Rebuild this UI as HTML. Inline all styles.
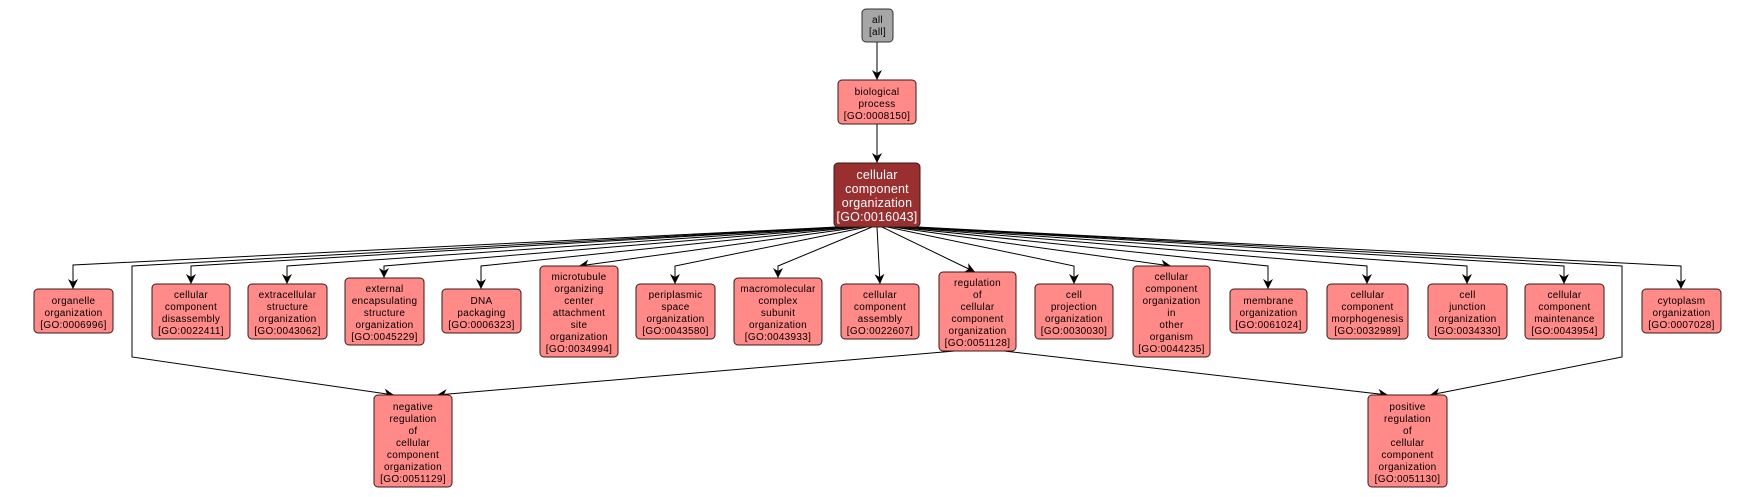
<!DOCTYPE html>
<html><head><meta charset="utf-8"><style>
html,body{margin:0;padding:0;background:#fff;}
svg{display:block;}
text{font-family:"Liberation Sans",Arial,sans-serif;font-size:10px;fill:#000;text-anchor:middle;letter-spacing:0.3px;}
.n{fill:#ff8a88;stroke:#3a1a1a;stroke-width:1;}
.e{fill:none;stroke:#000;stroke-width:1;marker-end:url(#a);}
.w{fill:#fff;font-size:12.5px;letter-spacing:0.2px;}
</style></head><body>
<svg width="1755" height="497" viewBox="0 0 1755 497" xmlns="http://www.w3.org/2000/svg">
<defs><marker id="a" markerWidth="12" markerHeight="12" refX="10" refY="5" orient="auto" markerUnits="userSpaceOnUse"><path d="M0,0 L10,5 L0,10 L3,5 Z" fill="#000"/></marker></defs>

<path class="e" d="M877,42 L877,80"/>
<path class="e" d="M877,124 L877,163"/>
<path class="e" d="M837,227 L73,265 L73,289"/>
<path class="e" d="M840,227 L132,266 L132,357 L394,395"/>
<path class="e" d="M843,227 L191,266 L191,284"/>
<path class="e" d="M848,227 L287,266 L287,284"/>
<path class="e" d="M852,227 L384,266 L384,278"/>
<path class="e" d="M857,227 L481,266 L481,289"/>
<path class="e" d="M862,227 L579,266"/>
<path class="e" d="M867,227 L675,266 L675,284"/>
<path class="e" d="M872,227 L778,266 L778,278"/>
<path class="e" d="M877,227 L880,284"/>
<path class="e" d="M882,227 L975,272"/>
<path class="e" d="M887,227 L1074,266 L1074,284"/>
<path class="e" d="M892,227 L1171,266"/>
<path class="e" d="M896,227 L1268,266 L1268,289"/>
<path class="e" d="M901,227 L1367,266 L1367,284"/>
<path class="e" d="M906,227 L1467,266 L1467,284"/>
<path class="e" d="M911,227 L1564,266 L1564,284"/>
<path class="e" d="M914,227 L1622,266 L1622,357 L1430,395"/>
<path class="e" d="M917,227 L1681,266 L1681,289"/>
<path class="e" d="M955,351 L437,395"/>
<path class="e" d="M1004,351 L1388,395"/>

<rect x="862" y="9" width="31" height="33" rx="4" fill="#a6a6a6" stroke="#333"/>
<text x="877.5" y="23">all</text><text x="877.5" y="35">[all]</text>

<rect class="n" x="838" y="80" width="78" height="44" rx="4"/>
<text x="877" y="95">biological</text><text x="877" y="107">process</text><text x="877" y="119">[GO:0008150]</text>

<rect x="834" y="163" width="86" height="64" rx="4" fill="#9a2f2f" stroke="#3a1a1a"/>
<text class="w" x="877" y="179">cellular</text><text class="w" x="877" y="193">component</text><text class="w" x="877" y="207">organization</text><text class="w" x="877" y="221">[GO:0016043]</text>

<rect class="n" x="34" y="289" width="79" height="44" rx="4"/>
<text x="73.5" y="304">organelle</text><text x="73.5" y="316">organization</text><text x="73.5" y="328">[GO:0006996]</text>

<rect class="n" x="152" y="284" width="78" height="55" rx="4"/>
<text x="191" y="298">cellular</text><text x="191" y="310">component</text><text x="191" y="322">disassembly</text><text x="191" y="334">[GO:0022411]</text>

<rect class="n" x="248" y="284" width="79" height="55" rx="4"/>
<text x="287.5" y="298">extracellular</text><text x="287.5" y="310">structure</text><text x="287.5" y="322">organization</text><text x="287.5" y="334">[GO:0043062]</text>

<rect class="n" x="345" y="278" width="79" height="67" rx="4"/>
<text x="384.5" y="292">external</text><text x="384.5" y="304">encapsulating</text><text x="384.5" y="316">structure</text><text x="384.5" y="328">organization</text><text x="384.5" y="340">[GO:0045229]</text>

<rect class="n" x="442" y="289" width="79" height="44" rx="4"/>
<text x="481.5" y="304">DNA</text><text x="481.5" y="316">packaging</text><text x="481.5" y="328">[GO:0006323]</text>

<rect class="n" x="540" y="266" width="78" height="91" rx="4"/>
<text x="579" y="280">microtubule</text><text x="579" y="292">organizing</text><text x="579" y="304">center</text><text x="579" y="316">attachment</text><text x="579" y="328">site</text><text x="579" y="340">organization</text><text x="579" y="352">[GO:0034994]</text>

<rect class="n" x="636" y="284" width="79" height="55" rx="4"/>
<text x="675.5" y="298">periplasmic</text><text x="675.5" y="310">space</text><text x="675.5" y="322">organization</text><text x="675.5" y="334">[GO:0043580]</text>

<rect class="n" x="734" y="278" width="88" height="67" rx="4"/>
<text x="778" y="292">macromolecular</text><text x="778" y="304">complex</text><text x="778" y="316">subunit</text><text x="778" y="328">organization</text><text x="778" y="340">[GO:0043933]</text>

<rect class="n" x="841" y="284" width="78" height="55" rx="4"/>
<text x="880" y="298">cellular</text><text x="880" y="310">component</text><text x="880" y="322">assembly</text><text x="880" y="334">[GO:0022607]</text>

<rect class="n" x="939" y="272" width="77" height="79" rx="4"/>
<text x="977.5" y="286">regulation</text><text x="977.5" y="298">of</text><text x="977.5" y="310">cellular</text><text x="977.5" y="322">component</text><text x="977.5" y="334">organization</text><text x="977.5" y="346">[GO:0051128]</text>

<rect class="n" x="1035" y="284" width="78" height="55" rx="4"/>
<text x="1074" y="298">cell</text><text x="1074" y="310">projection</text><text x="1074" y="322">organization</text><text x="1074" y="334">[GO:0030030]</text>

<rect class="n" x="1133" y="266" width="77" height="91" rx="4"/>
<text x="1171.5" y="280">cellular</text><text x="1171.5" y="292">component</text><text x="1171.5" y="304">organization</text><text x="1171.5" y="316">in</text><text x="1171.5" y="328">other</text><text x="1171.5" y="340">organism</text><text x="1171.5" y="352">[GO:0044235]</text>

<rect class="n" x="1230" y="289" width="77" height="44" rx="4"/>
<text x="1268.5" y="304">membrane</text><text x="1268.5" y="316">organization</text><text x="1268.5" y="328">[GO:0061024]</text>

<rect class="n" x="1327" y="284" width="81" height="55" rx="4"/>
<text x="1367.5" y="298">cellular</text><text x="1367.5" y="310">component</text><text x="1367.5" y="322">morphogenesis</text><text x="1367.5" y="334">[GO:0032989]</text>

<rect class="n" x="1428" y="284" width="79" height="55" rx="4"/>
<text x="1467.5" y="298">cell</text><text x="1467.5" y="310">junction</text><text x="1467.5" y="322">organization</text><text x="1467.5" y="334">[GO:0034330]</text>

<rect class="n" x="1525" y="284" width="79" height="55" rx="4"/>
<text x="1564.5" y="298">cellular</text><text x="1564.5" y="310">component</text><text x="1564.5" y="322">maintenance</text><text x="1564.5" y="334">[GO:0043954]</text>

<rect class="n" x="1642" y="289" width="79" height="44" rx="4"/>
<text x="1681.5" y="304">cytoplasm</text><text x="1681.5" y="316">organization</text><text x="1681.5" y="328">[GO:0007028]</text>

<rect class="n" x="374" y="395" width="78" height="92" rx="4"/>
<text x="413" y="410">negative</text><text x="413" y="422">regulation</text><text x="413" y="434">of</text><text x="413" y="446">cellular</text><text x="413" y="458">component</text><text x="413" y="470">organization</text><text x="413" y="482">[GO:0051129]</text>

<rect class="n" x="1368" y="395" width="79" height="92" rx="4"/>
<text x="1407.5" y="410">positive</text><text x="1407.5" y="422">regulation</text><text x="1407.5" y="434">of</text><text x="1407.5" y="446">cellular</text><text x="1407.5" y="458">component</text><text x="1407.5" y="470">organization</text><text x="1407.5" y="482">[GO:0051130]</text>
</svg>
</body></html>
